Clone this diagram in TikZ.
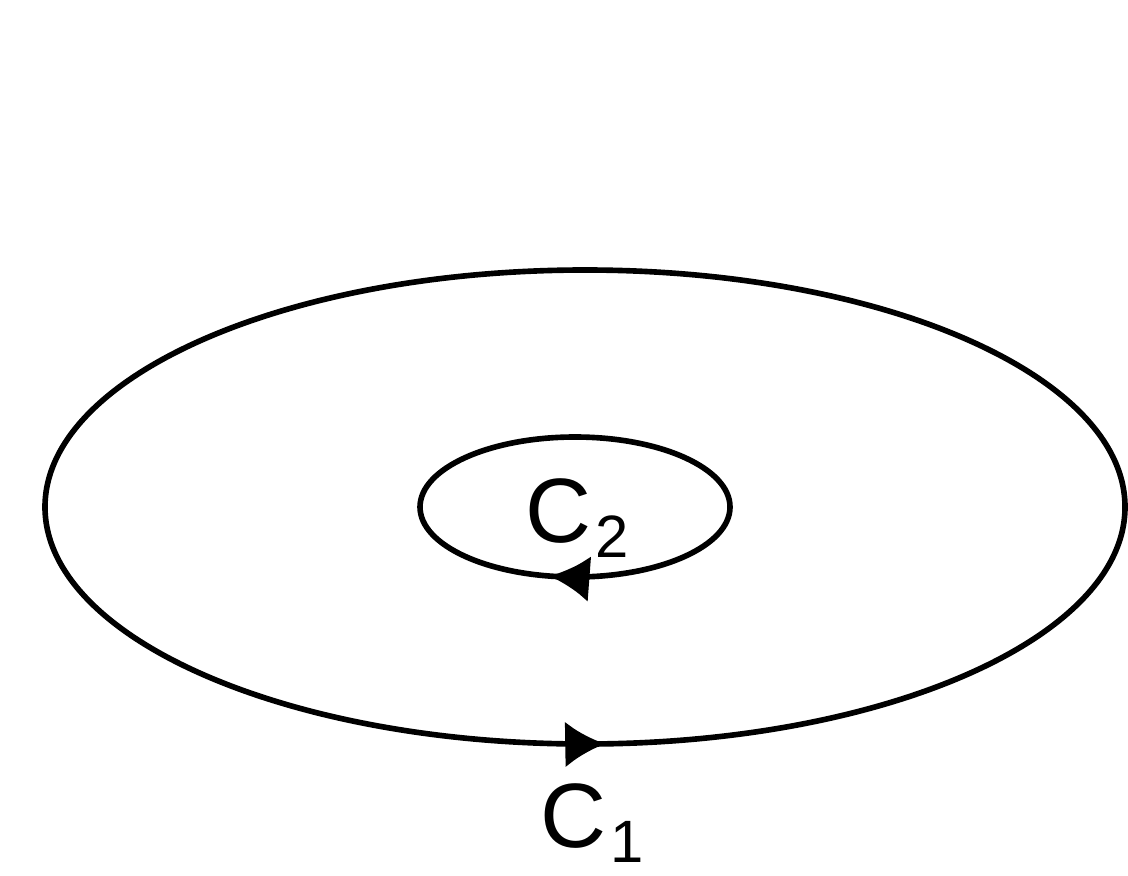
\documentclass[tikz,border=0pt]{standalone}
\usepackage{fontspec}
\setmainfont{Liberation Sans}
\usetikzlibrary{arrows.meta,decorations.markings}
\newcommand{\curvelabel}[1]{\fontsize{26}{30}\selectfont C\hspace{1pt}\raisebox{-4.5pt}{\fontsize{17}{20}\selectfont #1}}
\begin{document}
\begin{tikzpicture}[
    x=0.01cm,y=0.01cm,
    curve/.style={draw,line width=1.6pt},
    lbl/.style={inner sep=0pt,anchor=base west},
    >={Latex[length=0.4cm,width=0.46cm]}
]
\useasboundingbox (0,0) rectangle (1128,875);
% outer contour, counterclockwise
\draw[curve,postaction={decorate},decoration={markings,mark=at position 0.758 with {\arrow{>}}}]
    (585,368) ellipse [x radius=540,y radius=237];
% inner contour, clockwise
\draw[curve,postaction={decorate},decoration={markings,mark=at position 0.715 with {\arrowreversed{>}}}]
    (575,368) ellipse [x radius=155,y radius=70];
\node[lbl] (c2) at (525,333) {\curvelabel{2}};
\node[lbl] (c1) at (540,28) {\curvelabel{1}};
\end{tikzpicture}
\end{document}
